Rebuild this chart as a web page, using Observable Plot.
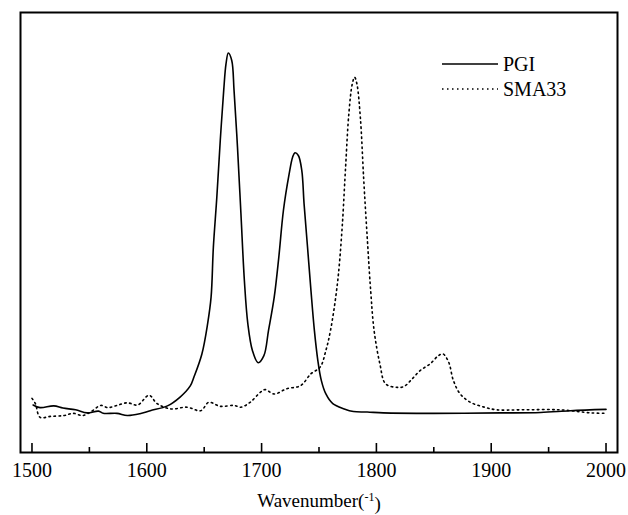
<!DOCTYPE html>
<html><head><meta charset="utf-8">
<script src="https://cdn.jsdelivr.net/npm/d3@7"></script>
<script src="https://cdn.jsdelivr.net/npm/@observablehq/plot@0.6"></script>
<style>body{margin:0;background:#fff}</style>
</head><body><div id="chart"></div>
<script>
// ---- data ----
const pgiWavenumber = [1501,1507,1519,1527,1538,1548,1558,1562,1574,1583,1594,1603,1618,1629,1638,1641,1648,1653,1656,1658,1661,1664,1667,1669,1671,1674,1676,1679,1682,1685,1688,1692,1697,1702,1706,1711,1715,1719,1724,1727,1729,1732,1735,1737,1740,1743,1746,1749,1752,1756,1762,1772,1780,1792,1806,1850,1908,1943,1969,2000];
const pgiAbsorbance = [0.108,0.102,0.106,0.101,0.097,0.090,0.094,0.089,0.089,0.084,0.088,0.095,0.106,0.126,0.152,0.171,0.224,0.293,0.353,0.467,0.580,0.709,0.823,0.883,0.908,0.891,0.823,0.694,0.543,0.391,0.293,0.232,0.204,0.220,0.277,0.353,0.444,0.550,0.633,0.671,0.681,0.675,0.641,0.565,0.467,0.368,0.277,0.209,0.164,0.133,0.111,0.099,0.093,0.092,0.090,0.089,0.090,0.091,0.095,0.098];
const smaWavenumber = [1500,1503,1507,1516,1528,1536,1544,1551,1560,1566,1574,1583,1592,1602,1609,1621,1635,1647,1654,1664,1676,1682,1690,1699,1703,1711,1722,1734,1743,1751,1756,1760,1766,1770,1773,1776,1779,1781,1783,1786,1789,1792,1795,1798,1803,1808,1818,1824,1830,1838,1847,1854,1858,1863,1867,1873,1882,1894,1905,1926,1960,1987,2000];
const smaAbsorbance = [0.123,0.111,0.080,0.082,0.084,0.089,0.084,0.092,0.107,0.102,0.107,0.113,0.108,0.130,0.111,0.099,0.103,0.095,0.114,0.105,0.107,0.103,0.114,0.137,0.143,0.133,0.145,0.152,0.179,0.194,0.232,0.277,0.383,0.505,0.641,0.770,0.838,0.853,0.838,0.762,0.618,0.489,0.368,0.277,0.202,0.156,0.148,0.150,0.164,0.186,0.202,0.220,0.224,0.205,0.164,0.133,0.114,0.103,0.097,0.097,0.097,0.090,0.089];
const seriesNames = ["PGI", "SMA33"];
const majorTicks = [1500, 1600, 1700, 1800, 1900, 2000];
const minorTicks = [1550, 1650, 1750, 1850, 1950];
const xLabelParts = ["Wavenumber(", "-1", ")"];

// ---- layout ----
const W = 628, H = 515, mt = 12, mb = 63, ml = 20, mr = 11;
const plotH = H - mt - mb;
const font = "'Liberation Serif', 'Times New Roman', serif";
const dash = "1.5,3.5";

const pgi = pgiWavenumber.map((w, i) => ({w, a: pgiAbsorbance[i]}));
const sma = smaWavenumber.map((w, i) => ({w, a: smaAbsorbance[i]}));

const chart = Plot.plot({
  width: W, height: H,
  marginTop: mt, marginBottom: mb, marginLeft: ml, marginRight: mr,
  style: {fontFamily: font, fontSize: "20px", color: "black", background: "white"},
  x: {domain: [1490, 2010]},
  y: {domain: [0, 1], axis: null},
  marks: [
    Plot.line(sma, {x: "w", y: "a", stroke: "black", strokeWidth: 1.6, strokeDasharray: dash, curve: "catmull-rom"}),
    Plot.line(pgi, {x: "w", y: "a", stroke: "black", strokeWidth: 1.6, curve: "catmull-rom"}),
    Plot.ruleX(majorTicks, {x: d => d, insetTop: plotH - 9, stroke: "black", strokeWidth: 1.6}),
    Plot.ruleX(minorTicks, {x: d => d, insetTop: plotH - 5, stroke: "black", strokeWidth: 1.6}),
    Plot.axisX({ticks: majorTicks, tickSize: 0, tickPadding: 10, label: null, fontSize: 20, tickFormat: d => String(d)}),
    Plot.text([xLabelParts.join("")], {frameAnchor: "bottom", dy: 54, lineAnchor: "bottom", fontSize: 19, fill: "black"}),
    Plot.frame({stroke: "black", strokeWidth: 2})
  ]
});
document.getElementById("chart").appendChild(chart);

const svg = d3.select(chart);
// superscript in the axis label
svg.selectAll("text").filter(function () { return this.textContent === xLabelParts.join(""); })
  .each(function () {
    const t = d3.select(this);
    t.text(null);
    t.append("tspan").text(xLabelParts[0]);
    t.append("tspan").attr("font-size", 12).attr("dy", "-0.45em").text(xLabelParts[1]);
    t.append("tspan").attr("dy", "0.45em").text(xLabelParts[2]);
  });

// legend
const leg = svg.append("g").attr("font-family", font).attr("font-size", 20)
  .attr("fill", "black").attr("text-anchor", "start");
const legRows = [{y: 64, base: 71, dash: null}, {y: 89, base: 95.5, dash: dash}];
seriesNames.forEach((name, i) => {
  const r = legRows[i];
  leg.append("line").attr("x1", 442).attr("x2", 498).attr("y1", r.y).attr("y2", r.y)
    .attr("stroke", "black").attr("stroke-width", 1.6).attr("stroke-dasharray", r.dash);
  leg.append("text").attr("x", 503).attr("y", r.base).attr("text-anchor", "start").text(name);
});
</script>
</body></html>
